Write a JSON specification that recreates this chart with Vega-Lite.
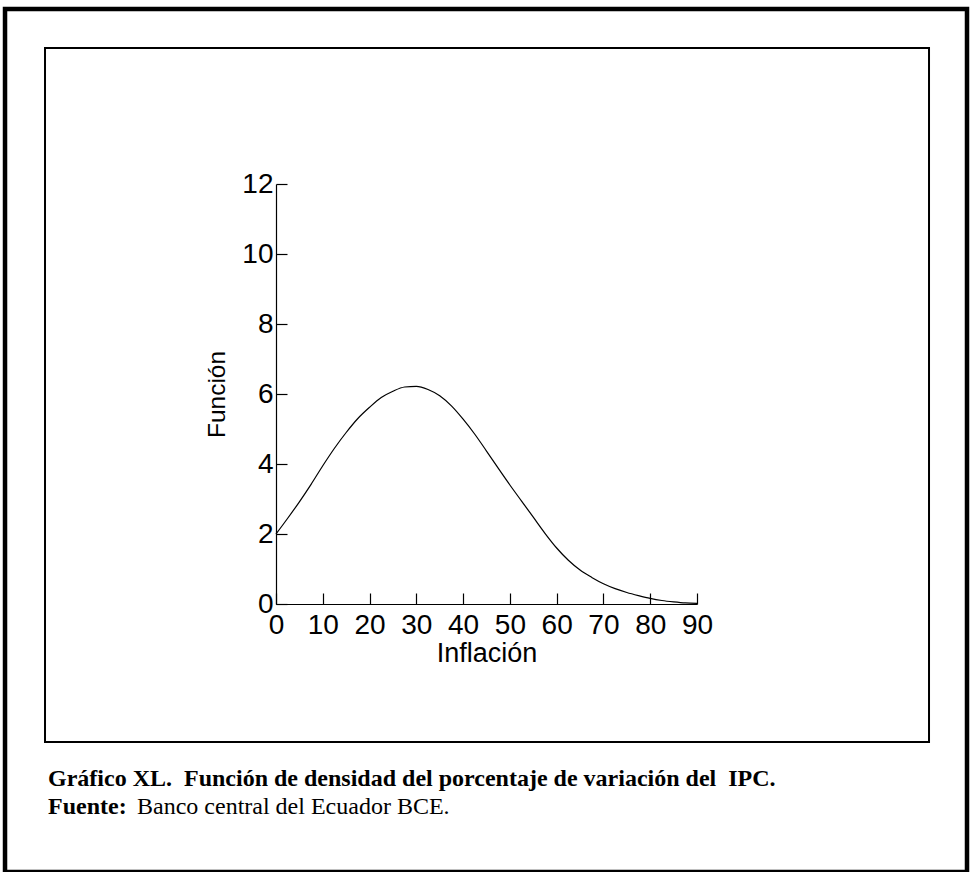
{
  "$schema": "https://vega.github.io/schema/vega-lite/v6.json",
  "autosize": {"type": "none"},
  "width": 421,
  "height": 420,
  "padding": {"left": 276, "top": 184, "right": 273, "bottom": 268},
  "background": "white",
  "config": {
    "view": {"stroke": null},
    "axis": {
      "grid": false,
      "domainColor": "black",
      "domainWidth": 1.2,
      "tickColor": "black",
      "tickWidth": 1.2,
      "tickSize": -11,
      "labelColor": "black",
      "labelFont": "Liberation Sans",
      "labelFontSize": 28,
      "titleColor": "black",
      "titleFont": "Liberation Sans",
      "titleFontWeight": "normal"
    }
  },
  "layer": [
    {
      "data": {
        "values": [
          {"inflacion": 0, "funcion": 2.0},
          {"inflacion": 2.5, "funcion": 2.45},
          {"inflacion": 5, "funcion": 2.92},
          {"inflacion": 7.5, "funcion": 3.42},
          {"inflacion": 10, "funcion": 3.95},
          {"inflacion": 12.5, "funcion": 4.45},
          {"inflacion": 15, "funcion": 4.9},
          {"inflacion": 17.5, "funcion": 5.3},
          {"inflacion": 20, "funcion": 5.62},
          {"inflacion": 22.5, "funcion": 5.9},
          {"inflacion": 25, "funcion": 6.08},
          {"inflacion": 27.5, "funcion": 6.2},
          {"inflacion": 30, "funcion": 6.22},
          {"inflacion": 32.5, "funcion": 6.13},
          {"inflacion": 35, "funcion": 5.95},
          {"inflacion": 37.5, "funcion": 5.66},
          {"inflacion": 40, "funcion": 5.28},
          {"inflacion": 42.5, "funcion": 4.85},
          {"inflacion": 45, "funcion": 4.37},
          {"inflacion": 47.5, "funcion": 3.88},
          {"inflacion": 50, "funcion": 3.4},
          {"inflacion": 52.5, "funcion": 2.94},
          {"inflacion": 55, "funcion": 2.48},
          {"inflacion": 57.5, "funcion": 2.02},
          {"inflacion": 60, "funcion": 1.6},
          {"inflacion": 62.5, "funcion": 1.25},
          {"inflacion": 65, "funcion": 0.97},
          {"inflacion": 67.5, "funcion": 0.76},
          {"inflacion": 70, "funcion": 0.58},
          {"inflacion": 72.5, "funcion": 0.44},
          {"inflacion": 75, "funcion": 0.33},
          {"inflacion": 77.5, "funcion": 0.24},
          {"inflacion": 80, "funcion": 0.16},
          {"inflacion": 82.5, "funcion": 0.1},
          {"inflacion": 85, "funcion": 0.06},
          {"inflacion": 87.5, "funcion": 0.03},
          {"inflacion": 90, "funcion": 0.02}
        ]
      },
      "mark": {"type": "line", "color": "black", "strokeWidth": 1.2, "interpolate": "monotone"},
      "encoding": {
        "x": {
          "field": "inflacion", "type": "quantitative",
          "scale": {"domain": [0, 90], "nice": false, "zero": false},
          "axis": {"values": [0,10,20,30,40,50,60,70,80,90], "title": "Inflación", "titleFontSize": 27, "labelPadding": 18, "titlePadding": 1, "labelFlush": false, "labelOverlap": false}
        },
        "y": {
          "field": "funcion", "type": "quantitative",
          "scale": {"domain": [0, 12], "nice": false, "zero": false},
          "axis": {"values": [0,2,4,6,8,10,12], "title": "Función", "titleFontSize": 24.5, "labelPadding": 14, "titlePadding": 12, "labelFlush": false, "labelOverlap": false}
        }
      }
    },
    {
      "data": {"values": [{}]},
      "mark": {"type": "rect", "filled": false, "stroke": "black", "strokeWidth": 4.5},
      "encoding": {
        "x": {"datum": -57.93},
        "x2": {"datum": 147.72},
        "y": {"datum": 17.0},
        "y2": {"datum": -7.66}
      }
    },
    {
      "data": {"values": [{}]},
      "mark": {"type": "rect", "filled": false, "stroke": "black", "strokeWidth": 2},
      "encoding": {
        "x": {"datum": -49.38},
        "x2": {"datum": 139.6},
        "y": {"datum": 15.886},
        "y2": {"datum": -3.943}
      }
    },
    {
      "data": {"values": [{}]},
      "mark": {"type": "text", "text": "Gráfico XL.\u00a0 Función de densidad del porcentaje de variación del\u00a0 IPC.", "font": "Liberation Serif", "fontWeight": "bold", "fontSize": 24, "align": "left", "baseline": "alphabetic", "color": "black"},
      "encoding": {
        "x": {"datum": -48.74},
        "y": {"datum": -5.2}
      }
    },
    {
      "data": {"values": [{}]},
      "mark": {"type": "text", "text": "Fuente:", "font": "Liberation Serif", "fontWeight": "bold", "fontSize": 24, "align": "left", "baseline": "alphabetic", "color": "black"},
      "encoding": {
        "x": {"datum": -48.74},
        "y": {"datum": -6.0}
      }
    },
    {
      "data": {"values": [{}]},
      "mark": {"type": "text", "text": "Banco central del Ecuador BCE.", "font": "Liberation Serif", "fontSize": 24, "align": "left", "baseline": "alphabetic", "color": "black"},
      "encoding": {
        "x": {"datum": -29.71},
        "y": {"datum": -6.0}
      }
    }
  ]
}
